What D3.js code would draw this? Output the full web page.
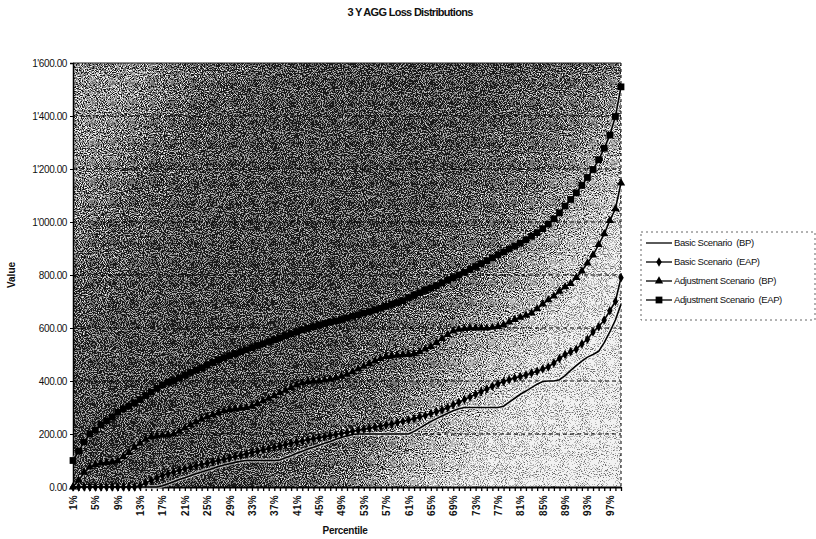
<!DOCTYPE html>
<html>
<head>
<meta charset="utf-8">
<script src="https://cdn.jsdelivr.net/npm/d3@7"></script>
<style>
  body { margin: 0; background: #fff; }
  text { font-family: "Liberation Sans", Arial, sans-serif; fill: #111; }
</style>
</head>
<body>
<div class="vis"></div>
<script>
// percentiles 1% .. 99%
const categories = d3.range(1, 100).map((p) => p + "%");
const tickLabels = ["1%","5%","9%","13%","17%","21%","25%","29%","33%","37%","41%","45%","49%",
  "53%","57%","61%","65%","69%","73%","77%","81%","85%","89%","93%","97%"];
const yTicks = [0, 200, 400, 600, 800, 1000, 1200, 1400, 1600];

const seriesNames = ["Basic Scenario  (BP)", "Basic Scenario  (EAP)",
  "Adjustment Scenario  (BP)", "Adjustment Scenario  (EAP)"];

const basicBP = [
  0,0,0,0,0,0,0,0,0,0, 0,0,0,0,0,0,5,12,20,28,
  35,42,50,57,63,70,77,83,88,93, 97,100,100,100,100,100,100,102,110,118,
  127,135,143,150,158,165,172,180,187,193, 198,200,200,200,200,200,200,200,200,200,
  200,210,222,235,247,258,268,278,288,295, 300,300,300,300,300,300,300,305,320,335,
  350,362,375,388,398,400,400,405,420,440, 458,475,490,500,512,545,585,630,690
];
const basicEAP = [
  0,0,0,0,0,0,0,0,0,0, 0,0,5,15,25,35,43,50,57,63,
  69,75,80,85,90,95,100,105,110,115, 120,125,130,135,140,145,150,155,160,165,
  170,174,178,182,186,190,194,198,202,206, 210,214,218,222,226,230,234,238,243,248,
  253,258,264,270,277,284,291,300,310,320, 330,340,350,360,370,380,390,398,405,411,
  417,423,430,437,445,453,468,485,500,510, 520,540,558,585,605,630,665,700,790
];
const adjBP = [
  0,25,55,75,85,90,92,95,100,115, 130,150,165,180,190,192,195,197,200,210,
  222,235,245,255,265,272,280,287,292,295, 297,300,305,315,325,335,345,355,365,375,
  385,392,397,400,400,403,407,412,418,425, 435,445,455,465,475,485,492,495,497,500,
  500,503,510,520,530,545,560,575,588,595, 598,600,600,600,600,602,605,612,622,632,
  640,648,656,672,690,706,720,738,755,768, 790,815,845,875,915,955,1005,1050,1147
];
const adjEAP = [
  100,135,170,200,215,235,250,265,282,295, 305,318,330,345,358,372,385,395,402,412,
  422,432,441,450,460,470,480,488,496,503, 511,518,526,534,541,549,556,563,571,578,
  586,593,599,605,611,617,622,627,632,638, 644,650,656,662,668,675,682,689,696,703,
  715,724,733,742,751,760,770,780,790,800, 810,821,832,843,854,865,876,887,898,909,
  920,933,946,960,975,992,1012,1035,1060,1085, 1110,1138,1168,1198,1235,1278,1328,1398,1510
];

const W = 816, H = 539;
const margin = { top: 63, right: 195, bottom: 52, left: 73 };
const width = W - margin.left - margin.right;
const height = H - margin.top - margin.bottom;

const svg = d3.select(".vis").append("svg")
  .attr("width", W).attr("height", H);

// scanned-looking gradient fill for the plot area
const defs = svg.append("defs");
const grad = defs.append("linearGradient").attr("id", "bg")
  .attr("x1", "0").attr("y1", "0.25").attr("x2", "1").attr("y2", "0.75");
[[0, "#7a7a7a"], [0.12, "#444"], [0.3, "#353535"], [0.55, "#3a3a3a"],
 [0.68, "#585858"], [0.78, "#9a9a9a"], [0.88, "#d2d2d2"], [1, "#e8e8e8"]]
  .forEach(([o, c]) => grad.append("stop").attr("offset", o).attr("stop-color", c));

const f = defs.append("filter").attr("id", "grain")
  .attr("x", 0).attr("y", 0).attr("width", "100%").attr("height", "100%")
  .attr("color-interpolation-filters", "sRGB");
f.append("feTurbulence").attr("type", "fractalNoise").attr("baseFrequency", 0.95)
  .attr("numOctaves", 2).attr("seed", 7).attr("result", "noise");
f.append("feColorMatrix").attr("in", "noise").attr("type", "matrix")
  .attr("values", "1 0 0 0 0 1 0 0 0 0 1 0 0 0 0 0 0 0 0 1").attr("result", "gray");
const amp = f.append("feComponentTransfer").attr("in", "gray").attr("result", "amp");
["feFuncR", "feFuncG", "feFuncB"].forEach((fn) =>
  amp.append(fn).attr("type", "linear").attr("slope", 2.4).attr("intercept", -0.7));
f.append("feComposite").attr("in", "SourceGraphic").attr("in2", "amp")
  .attr("operator", "arithmetic").attr("k1", 0).attr("k2", 1).attr("k3", 1).attr("k4", -0.5)
  .attr("result", "sum");
const thr = f.append("feComponentTransfer").attr("in", "sum");
["feFuncR", "feFuncG", "feFuncB"].forEach((fn) =>
  thr.append(fn).attr("type", "discrete").attr("tableValues", "0.1 0.45 0.72 0.95"));

const g = svg.append("g").attr("transform", `translate(${margin.left},${margin.top})`);

const x = d3.scalePoint().domain(categories).range([0, width]);
const y = d3.scaleLinear().domain([0, 1600]).range([height, 0]);

g.append("rect").attr("width", width).attr("height", height)
  .attr("fill", "url(#bg)").attr("filter", "url(#grain)");

// gridlines
g.append("g").selectAll("line").data(yTicks.slice(1, -1)).enter().append("line")
  .attr("x1", 0).attr("x2", width)
  .attr("y1", (d) => y(d)).attr("y2", (d) => y(d))
  .attr("stroke", "#000").attr("stroke-width", 1).attr("stroke-dasharray", "4,3");
g.append("line").attr("x1", 0).attr("x2", width).attr("y1", 0).attr("y2", 0)
  .attr("stroke", "#222").attr("stroke-width", 1.2);
g.append("line").attr("x1", width).attr("x2", width).attr("y1", 0).attr("y2", height)
  .attr("stroke", "#000").attr("stroke-dasharray", "3,3");

// axes
const fmt = d3.formatLocale({ decimal: ".", thousands: "'", grouping: [3], currency: ["", ""] })
  .format(",.2f");
const yAxis = g.append("g").call(d3.axisLeft(y).tickValues(yTicks).tickFormat(fmt)
  .tickSize(3).tickPadding(3));
yAxis.select(".domain").attr("stroke", "#000").attr("stroke-width", 1.5);
yAxis.selectAll("text").attr("font-size", 10).attr("letter-spacing", -0.4);

const xAxis = g.append("g").attr("transform", `translate(0,${height})`)
  .call(d3.axisBottom(x).tickSize(4).tickSizeOuter(0).tickFormat((d) => tickLabels.includes(d) ? d : ""));
xAxis.select(".domain").attr("stroke", "#000").attr("stroke-width", 2);
xAxis.selectAll("line").attr("stroke-width", 1.3);
xAxis.selectAll("text")
  .attr("font-size", 10).attr("font-weight", "bold").attr("letter-spacing", 0.3)
  .attr("transform", "rotate(-90)").attr("text-anchor", "end")
  .attr("x", -8).attr("y", 0).attr("dy", "0.35em");

// series
const series = [
  { name: seriesNames[0], values: basicBP, marker: null },
  { name: seriesNames[1], values: basicEAP, marker: d3.symbolDiamond, size: 26 },
  { name: seriesNames[2], values: adjBP, marker: d3.symbolTriangle, size: 30 },
  { name: seriesNames[3], values: adjEAP, marker: d3.symbolSquare, size: 46 },
];

const line = d3.line().x((d, i) => x(categories[i])).y((d) => y(d));

series.forEach((s) => {
  g.append("path").datum(s.values).attr("fill", "none")
    .attr("stroke", "#fff").attr("stroke-opacity", 0.55).attr("stroke-width", 4)
    .attr("d", line);
});
series.forEach((s) => {
  g.append("path").datum(s.values).attr("fill", "none")
    .attr("stroke", "#000").attr("stroke-width", 1.6).attr("d", line);
  if (s.marker) {
    g.append("g").selectAll("path").data(s.values).enter().append("path")
      .attr("d", d3.symbol().type(s.marker).size(s.size))
      .attr("transform", (d, i) => `translate(${x(categories[i])},${y(d)})`)
      .attr("fill", "#000");
  }
});

// titles
svg.append("text").attr("x", 410).attr("y", 16).attr("text-anchor", "middle")
  .attr("font-size", 11).attr("font-weight", "bold").attr("letter-spacing", -0.7)
  .text("3 Y AGG Loss Distributions");
svg.append("text").attr("x", 345).attr("y", 534).attr("text-anchor", "middle")
  .attr("font-size", 10).attr("font-weight", "bold").attr("letter-spacing", -0.3)
  .text("Percentile");
svg.append("text").attr("transform", "translate(15,275) rotate(-90)").attr("text-anchor", "middle")
  .attr("font-size", 10).attr("font-weight", "bold").text("Value");

// legend
const lg = svg.append("g").attr("transform", "translate(641,232)");
lg.append("rect").attr("width", 174).attr("height", 88).attr("fill", "#fff")
  .attr("stroke", "#666").attr("stroke-dasharray", "2,3");
series.forEach((s, i) => {
  const yy = 11 + i * 19;
  lg.append("line").attr("x1", 5).attr("x2", 31).attr("y1", yy).attr("y2", yy)
    .attr("stroke", "#000").attr("stroke-width", 1.3);
  if (s.marker) {
    lg.append("path").attr("d", d3.symbol().type(s.marker).size(s.size))
      .attr("transform", `translate(18,${yy})`).attr("fill", "#000");
  }
  lg.append("text").attr("x", 33).attr("y", yy).attr("dy", "0.35em")
    .style("white-space", "pre")
    .attr("font-size", 9.5).attr("letter-spacing", -0.4).text(s.name);
});
</script>
</body>
</html>
